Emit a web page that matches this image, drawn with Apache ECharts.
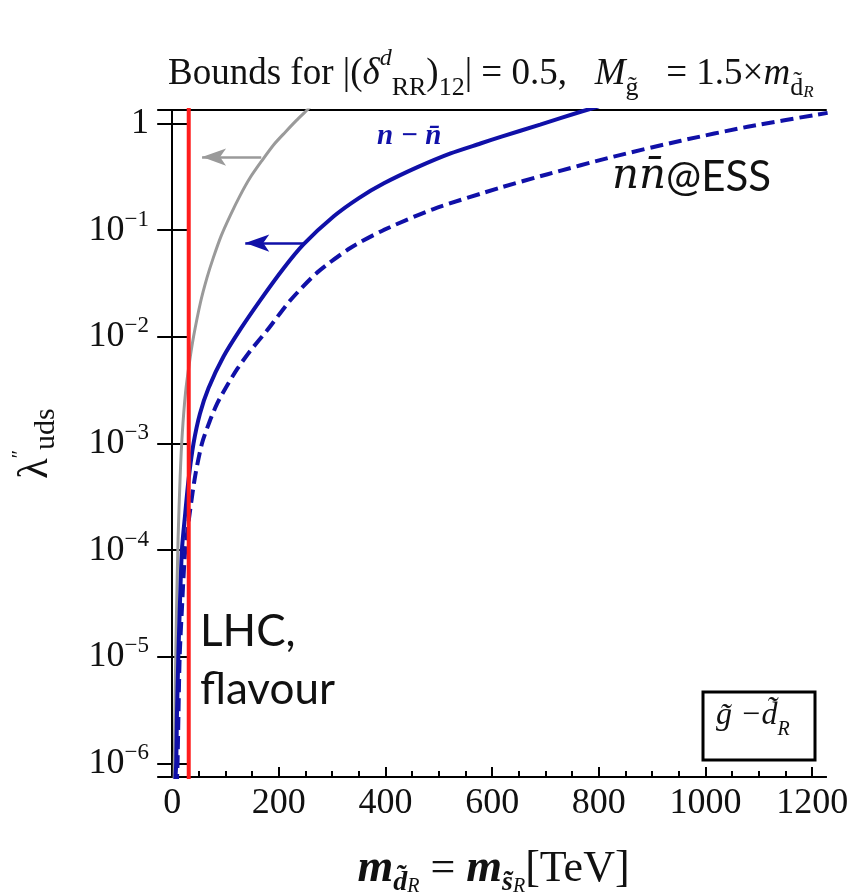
<!DOCTYPE html>
<html>
<head>
<meta charset="utf-8">
<script src="https://cdn.jsdelivr.net/npm/echarts@6/dist/echarts.min.js"></script>
<style>
html, body { margin: 0; padding: 0; background: #fff; }
#chart { width: 856px; height: 895px; }
</style>
</head>
<body>
<div id="chart"></div>
<script>
// values (mass in TeV, lambda'' on a log scale)
var grayMass    = [3.5, 4.5, 6, 8, 11, 15, 19, 25, 32, 40, 53, 65, 77, 92, 109, 127, 146, 168, 190, 212, 233, 253, 262];
var grayLambda  = [6.3e-7, 1.6e-6, 6.3e-6, 2.5e-5, 1.26e-4, 5e-4, 1.26e-3, 3e-3, 5.6e-3, 0.01, 0.021, 0.0355, 0.055, 0.089, 0.138, 0.21, 0.31, 0.447, 0.63, 0.83, 1.07, 1.34, 1.5];

var solidMass   = [5, 7.5, 9, 11.5, 14, 18.2, 24.4, 30.7, 40, 52, 68, 96, 128, 165, 209, 246.6, 303, 350, 397, 460, 522, 578, 616, 690, 766, 800];
var solidLambda = [6e-7, 1e-6, 3e-6, 1e-5, 2.6e-5, 1e-4, 2.2e-4, 4.6e-4, 1e-3, 1.9e-3, 3.3e-3, 6.5e-3, 0.0118, 0.022, 0.044, 0.074, 0.135, 0.2, 0.275, 0.39, 0.525, 0.65, 0.75, 0.977, 1.29, 1.45];

var dashMass    = [8.5, 10, 11.8, 14, 18.2, 24.4, 33.8, 43.2, 55.8, 70, 84, 100, 122, 146.5, 178, 221.6, 271.7, 334, 396, 490, 616, 704, 828, 954, 1079, 1229];
var dashLambda  = [6e-7, 1e-6, 3e-6, 1e-5, 2.8e-5, 1e-4, 2.4e-4, 5e-4, 1e-3, 1.6e-3, 2.35e-3, 3.3e-3, 5e-3, 7.4e-3, 0.0115, 0.022, 0.04, 0.068, 0.1, 0.158, 0.251, 0.335, 0.49, 0.69, 0.933, 1.26];

var lhcMass     = [31, 31];
var lhcLambda   = [5e-7, 2];

var grayArrow   = [[167, 0.485], [56, 0.485]];
var blueArrow   = [[246, 0.0757], [137, 0.0757]];

var xMin = -21, xMax = 1226;
var yMin = 7.45e-7, yMax = 1.34;
var xTicks = [0, 200, 400, 600, 800, 1000, 1200];
var xMinorTicks = [50, 100, 150, 250, 300, 350, 450, 500, 550, 650, 700, 750, 850, 900, 950, 1050, 1100, 1150];

function pairs(xs, ys) {
    return xs.map(function (x, i) { return [x, ys[i]]; });
}

var serif = '"Liberation Serif", "DejaVu Serif", serif';
var blue = '#1010a8';

var chart = echarts.init(document.getElementById('chart'));
var option = {
    animation: false,
    backgroundColor: '#fff',
    grid: {
        left: 161,
        right: 30,
        top: 110,
        bottom: 118,
        containLabel: false,
        outerBoundsMode: 'none'
    },
    xAxis: [
        {
            type: 'value',
            min: xMin,
            max: xMax,
            position: 'bottom',
            axisLine: { lineStyle: { color: '#000', width: 2 } },
            axisTick: { inside: true, length: 10, customValues: xTicks, lineStyle: { color: '#000', width: 2 } },
            axisLabel: {
                customValues: xTicks,
                margin: 9,
                color: '#111',
                fontFamily: serif,
                fontSize: 36,
                formatter: function (v) { return String(v); }
            },
            splitLine: { show: false },
            name: '{m|m}{s|d̃}{ss|R}{e| = }{m|m}{s|s̃}{ss|R}{t|[TeV]}',
            nameLocation: 'middle',
            nameGap: 64,
            nameTextStyle: {
                color: '#111',
                fontFamily: serif,
                rich: {
                    m: { fontSize: 46, fontStyle: 'italic', fontWeight: 'bold', fontFamily: serif, lineHeight: 56 },
                    s: { fontSize: 28, fontStyle: 'italic', fontWeight: 'bold', fontFamily: serif, lineHeight: 26, verticalAlign: 'bottom' },
                    ss: { fontSize: 20, fontStyle: 'italic', fontFamily: serif, lineHeight: 18, verticalAlign: 'bottom' },
                    e: { fontSize: 44, fontFamily: serif, lineHeight: 56 },
                    t: { fontSize: 44, fontFamily: serif, lineHeight: 56 }
                }
            }
        },
        {
            type: 'value',
            min: xMin,
            max: xMax,
            position: 'bottom',
            axisLine: { show: true, lineStyle: { color: '#000', width: 2 } },
            axisTick: { show: true, inside: true, length: 6, customValues: xMinorTicks, lineStyle: { color: '#000', width: 2 } },
            axisLabel: { show: false },
            splitLine: { show: false }
        },
        {
            type: 'value',
            min: xMin,
            max: xMax,
            position: 'top',
            axisLine: { lineStyle: { color: '#000', width: 2 } },
            axisTick: { show: false },
            axisLabel: { show: false },
            splitLine: { show: false }
        }
    ],
    yAxis: [
        {
            type: 'log',
            min: yMin,
            max: yMax,
            position: 'left',
            axisLine: { lineStyle: { color: '#000', width: 2 } },
            axisTick: { inside: true, length: 17, lineStyle: { color: '#000', width: 2 } },
            minorTick: { show: false },
            splitLine: { show: false },
            axisLabel: {
                margin: 12,
                color: '#111',
                fontFamily: serif,
                formatter: function (v) {
                    var e = Math.log(v) / Math.LN10;
                    var r = Math.round(e);
                    if (Math.abs(e - r) > 1e-6) return '';
                    if (r === 0) return '{b|1}';
                    return '{b|10}{p|−' + (-r) + '}';
                },
                rich: {
                    b: { fontSize: 36, fontFamily: serif, color: '#111', lineHeight: 44 },
                    p: { fontSize: 23, fontFamily: serif, color: '#111', lineHeight: 24, verticalAlign: 'top' }
                }
            },
            name: '{l|λ}{p|″}{s|uds}',
            nameLocation: 'middle',
            nameRotate: 90,
            nameGap: 100,
            nameTextStyle: {
                color: '#111',
                rich: {
                    l: { fontSize: 42, fontFamily: serif, lineHeight: 50 },
                    p: { fontSize: 20, fontFamily: serif, lineHeight: 22, verticalAlign: 'top' },
                    s: { fontSize: 30, fontFamily: serif, lineHeight: 28, verticalAlign: 'bottom' }
                }
            }
        },
        {
            type: 'log',
            min: yMin,
            max: yMax,
            position: 'right',
            axisLine: { lineStyle: { color: '#000', width: 2 } },
            axisTick: { inside: true, length: 15, lineStyle: { color: '#000', width: 2 } },
            axisLabel: { show: false },
            splitLine: { show: false }
        }
    ],
    series: [
        {
            name: 'gray',
            type: 'line',
            data: pairs(grayMass, grayLambda),
            symbol: 'none',
            smooth: 0.25,
            lineStyle: { color: '#9a9a9a', width: 3 },
            markLine: {
                silent: true,
                symbol: ['none', 'arrow'],
                symbolSize: [13, 24],
                label: { show: false },
                lineStyle: { color: '#9a9a9a', width: 2.5, type: 'solid' },
                data: [[{ coord: grayArrow[0] }, { coord: grayArrow[1] }]]
            }
        },
        {
            name: 'n-nbar',
            type: 'line',
            data: pairs(solidMass, solidLambda),
            symbol: 'none',
            smooth: 0.25,
            lineStyle: { color: blue, width: 4 },
            markLine: {
                silent: true,
                symbol: ['none', 'arrow'],
                symbolSize: [13, 24],
                label: { show: false },
                lineStyle: { color: blue, width: 2.5, type: 'solid' },
                data: [[{ coord: blueArrow[0] }, { coord: blueArrow[1] }]]
            }
        },
        {
            name: 'ESS',
            type: 'line',
            data: pairs(dashMass, dashLambda),
            symbol: 'none',
            smooth: 0.25,
            lineStyle: { color: blue, width: 4, type: [13, 6] }
        },
        {
            name: 'LHC',
            type: 'line',
            data: pairs(lhcMass, lhcLambda),
            symbol: 'none',
            lineStyle: { color: '#ff1c1c', width: 4 }
        }
    ],
    graphic: [
        {
            type: 'text',
            left: 168,
            top: 47,
            style: {
                text: '{n|Bounds for |(}{i|δ}{p|d}{b|RR}{n|)}{b|12}{n|| = 0.5,   }{i|M}{b|g̃}{n|   = 1.5×}{i|m}{b|d̃}{bb|R}',
                fill: '#111',
                rich: {
                    n: { fontSize: 37, fontFamily: serif, lineHeight: 54 },
                    i: { fontSize: 37, fontFamily: serif, fontStyle: 'italic', lineHeight: 54 },
                    p: { fontSize: 24, fontFamily: serif, fontStyle: 'italic', lineHeight: 26, verticalAlign: 'top' },
                    b: { fontSize: 26, fontFamily: serif, lineHeight: 26, verticalAlign: 'bottom' },
                    bb: { fontSize: 17, fontFamily: serif, fontStyle: 'italic', lineHeight: 14, verticalAlign: 'bottom' }
                }
            }
        },
        {
            type: 'text',
            left: 377,
            top: 122,
            style: {
                text: 'n − n̄',
                fill: blue,
                font: 'italic bold 29px "Liberation Serif", serif'
            }
        },
        {
            type: 'text',
            left: 612,
            top: 156,
            style: {
                text: '{i|nn̄}{s|@ESS}',
                fill: '#111',
                rich: {
                    i: { fontSize: 42, fontFamily: '"DejaVu Serif", serif', fontStyle: 'italic', lineHeight: 48 },
                    s: { fontSize: 42, fontFamily: 'Lato, "Open Sans", sans-serif', lineHeight: 48 }
                }
            }
        },
        {
            type: 'text',
            left: 200,
            top: 603,
            style: {
                text: 'LHC,\nflavour',
                fill: '#111',
                font: '44px Lato, "Open Sans", sans-serif',
                lineHeight: 58
            }
        },
        {
            type: 'rect',
            shape: { x: 703, y: 692, width: 112, height: 68 },
            style: { fill: '#fff', stroke: '#000', lineWidth: 3 }
        },
        {
            type: 'text',
            left: 716,
            top: 700,
            style: {
                text: '{i|g̃ −d̃}{s|R}',
                fill: '#111',
                rich: {
                    i: { fontSize: 32, fontFamily: serif, fontStyle: 'italic', lineHeight: 48 },
                    s: { fontSize: 20, fontFamily: serif, fontStyle: 'italic', lineHeight: 20, verticalAlign: 'bottom' }
                }
            }
        }
    ]
};
chart.setOption(option);
</script>
</body>
</html>
